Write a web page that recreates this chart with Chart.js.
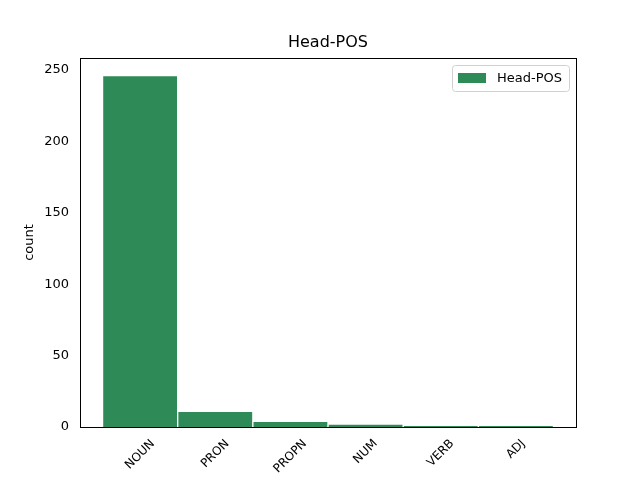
<!DOCTYPE html>
<html>
<head>
<meta charset="utf-8">
<script src="https://cdn.jsdelivr.net/npm/chart.js@4.4.1/dist/chart.umd.min.js"></script>
<style>
  html, body { margin: 0; padding: 0; background: #fff; }
  #wrap { width: 640px; height: 480px; }
</style>
</head>
<body>
<div id="wrap"><canvas id="posChart" width="640" height="480"></canvas></div>
<script>
const categories = ["NOUN", "PRON", "PROPN", "NUM", "VERB", "ADJ"];
const counts = [246, 11, 4, 2, 1, 1];
const yTicks = [0, 50, 100, 150, 200, 250];
const chartTitle = "Head-POS";

const font = "'DejaVu Sans', sans-serif";

// plot frame, title over the plot area, rotated x labels and the legend box
const extras = {
  id: "extras",
  afterDraw(chart) {
    const ctx = chart.ctx;
    const a = chart.chartArea;
    ctx.save();
    ctx.strokeStyle = "#000";
    ctx.lineWidth = 1;
    ctx.strokeRect(Math.round(a.left) + 0.5, Math.round(a.top) + 0.5,
      Math.round(a.right - a.left), Math.round(a.bottom - a.top));

    // title centred on the axes, not the canvas
    ctx.fillStyle = "#000";
    ctx.font = "16px " + font;
    ctx.textAlign = "center";
    ctx.textBaseline = "alphabetic";
    ctx.fillText(chartTitle, (a.left + a.right) / 2, a.top - 11);

    // x tick labels, rotated 45 like matplotlib with ha="center"
    const xs = chart.scales.x;
    const fs = 12;
    ctx.font = fs + "px " + font;
    ctx.textBaseline = "middle";
    categories.forEach((c, i) => {
      const px = xs.getPixelForValue(i);
      const L = ctx.measureText(c).width;
      const box = (L + fs * 0.9) / Math.SQRT2;
      ctx.save();
      ctx.translate(px, a.bottom + 11 + box / 2);
      ctx.rotate(-Math.PI / 4);
      ctx.fillText(c, 0, 0);
      ctx.restore();
    });

    // legend
    const label = chart.data.datasets[0].label;
    ctx.font = "13px " + font;
    ctx.textAlign = "left";
    const tw = ctx.measureText(label).width;
    const w = 45 + tw + 7;
    const h = 26;
    const x = Math.round(a.right - 7 - w);
    const y = a.top + 7;
    ctx.fillStyle = "rgba(255,255,255,0.8)";
    ctx.strokeStyle = "#d0d0d0";
    ctx.beginPath();
    ctx.roundRect(x + 0.5, y + 0.5, Math.round(w), h, 3);
    ctx.fill();
    ctx.stroke();
    ctx.fillStyle = "#2e8b57";
    ctx.fillRect(x + 6, y + 8, 28, 10);
    ctx.fillStyle = "#000";
    ctx.textBaseline = "middle";
    ctx.fillText(label, x + 45, y + 13.5);
    ctx.restore();
  },
};

const ctx = document.getElementById("posChart").getContext("2d");
new Chart(ctx, {
  type: "bar",
  data: {
    datasets: [
      {
        label: "Head-POS",
        data: counts.map((v, i) => ({ x: i, y: v })),
        backgroundColor: "#2e8b57",
        borderColor: "#ffffff",
        borderWidth: 1,
        barPercentage: 1,
        categoryPercentage: 1,
      },
    ],
  },
  options: {
    responsive: false,
    animation: false,
    layout: { padding: { top: 58, right: 64, bottom: 0, left: 0 } },
    plugins: {
      legend: { display: false },
      tooltip: { enabled: false },
      title: { display: false },
    },
    scales: {
      x: {
        type: "linear",
        offset: false,
        min: -0.8,
        max: 5.8,
        grid: { display: false, drawTicks: true, tickLength: 4, tickColor: "#000" },
        border: { display: false },
        afterBuildTicks: (axis) => {
          axis.ticks = categories.map((c, i) => ({ value: i }));
        },
        afterFit: (axis) => {
          axis.height = 53;
        },
        ticks: { display: false },
      },
      y: {
        min: 0,
        max: 258.3,
        grid: { display: false, drawTicks: true, tickLength: 4, tickColor: "#000" },
        border: { display: false },
        afterBuildTicks: (axis) => {
          axis.ticks = yTicks.map((v) => ({ value: v }));
        },
        afterFit: (axis) => {
          axis.width = 80;
        },
        title: {
          display: true,
          text: "count",
          color: "#000",
          font: { family: font, size: 13 },
          padding: { top: 22, bottom: 0 },
        },
        ticks: {
          color: "#000",
          font: { family: font, size: 13 },
          padding: 7,
        },
      },
    },
  },
  plugins: [extras],
});
</script>
</body>
</html>
